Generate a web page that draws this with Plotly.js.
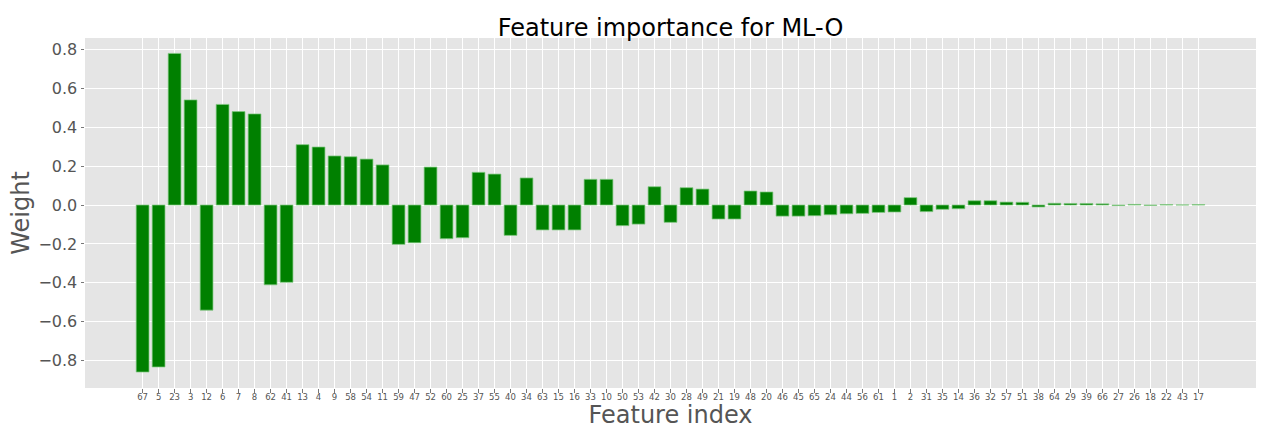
<!DOCTYPE html>
<html>
<head>
<meta charset="utf-8">
<script src="https://cdn.plot.ly/plotly-3.0.1.min.js"></script>
<style>html,body{margin:0;padding:0;background:#fff;}#chart{width:1267px;height:429px;}</style>
</head>
<body>
<div id="chart"></div>
<script>
const featureLabels = ["67","5","23","3","12","6","7","8","62","41",
  "13","4","9","58","54","11","59","47","52","60",
  "25","37","55","40","34","63","15","16","33","10",
  "50","53","42","30","28","49","21","19","48","20",
  "46","45","65","24","44","56","61","1","2","31",
  "35","14","36","32","57","51","38","64","29","39",
  "66","27","26","18","22","43","17"];
const weights = [-0.858,-0.832,0.779,0.540,-0.540,0.517,0.480,0.468,-0.410,-0.397,
  0.310,0.298,0.252,0.248,0.236,0.206,-0.202,-0.194,0.195,-0.173,
  -0.168,0.168,0.159,-0.156,0.139,-0.128,-0.128,-0.128,0.132,0.132,
  -0.106,-0.098,0.094,-0.089,0.089,0.082,-0.072,-0.072,0.072,0.067,
  -0.057,-0.057,-0.055,-0.050,-0.045,-0.043,-0.038,-0.036,0.038,-0.034,
  -0.022,-0.019,0.022,0.022,0.015,0.014,-0.010,0.009,0.008,0.008,
  0.006,-0.003,0.003,-0.002,0.002,0.0005,0.002];
const yTicks = [-0.8,-0.6,-0.4,-0.2,0.0,0.2,0.4,0.6,0.8];
const yTickText = ["\u22120.8","\u22120.6","\u22120.4","\u22120.2","0.0","0.2","0.4","0.6","0.8"];

const font = "DejaVu Sans, sans-serif";
Plotly.newPlot("chart", [{
  type: "bar",
  x: featureLabels,
  y: weights,
  marker: {color: "#008000", line: {color: "rgba(130,200,130,0.9)", width: 0.8}},
  hoverinfo: "x+y"
}], {
  width: 1267, height: 429,
  margin: {l: 85, r: 11, t: 38, b: 41},
  paper_bgcolor: "#ffffff",
  plot_bgcolor: "#E5E5E5",
  bargap: 0.2,
  showlegend: false,
  font: {family: font, color: "#555555"},
  title: {text: "Feature importance for ML-O", font: {family: font, size: 24, color: "#000000"},
          x: 0.5, xref: "paper", y: 1, yref: "paper", yanchor: "bottom", pad: {b: 2}},
  xaxis: {
    type: "category",
    range: [-3.6, 69.6],
    tickfont: {family: font, size: 8.5, color: "#555555"},
    ticks: "outside", ticklen: 3.5, tickcolor: "#555555", tickwidth: 0.8,
    ticklabelstandoff: -3,
    showgrid: true, gridcolor: "#ffffff", gridwidth: 1,
    zeroline: false, showline: false,
    tickangle: 0,
    automargin: false,
    title: {text: "Feature index", font: {family: font, size: 24, color: "#555555"}, standoff: 6}
  },
  yaxis: {
    range: [-0.940, 0.858],
    tickvals: yTicks, ticktext: yTickText,
    tickfont: {family: font, size: 16, color: "#555555"},
    ticks: "outside", ticklen: 3.5, tickcolor: "#555555", tickwidth: 0.8,
    showgrid: true, gridcolor: "#ffffff", gridwidth: 1,
    zeroline: false, showline: false,
    automargin: false,
    title: {text: "Weight", font: {family: font, size: 24, color: "#555555"}, standoff: 2}
  }
}, {displayModeBar: false, staticPlot: true});
</script>
</body>
</html>
